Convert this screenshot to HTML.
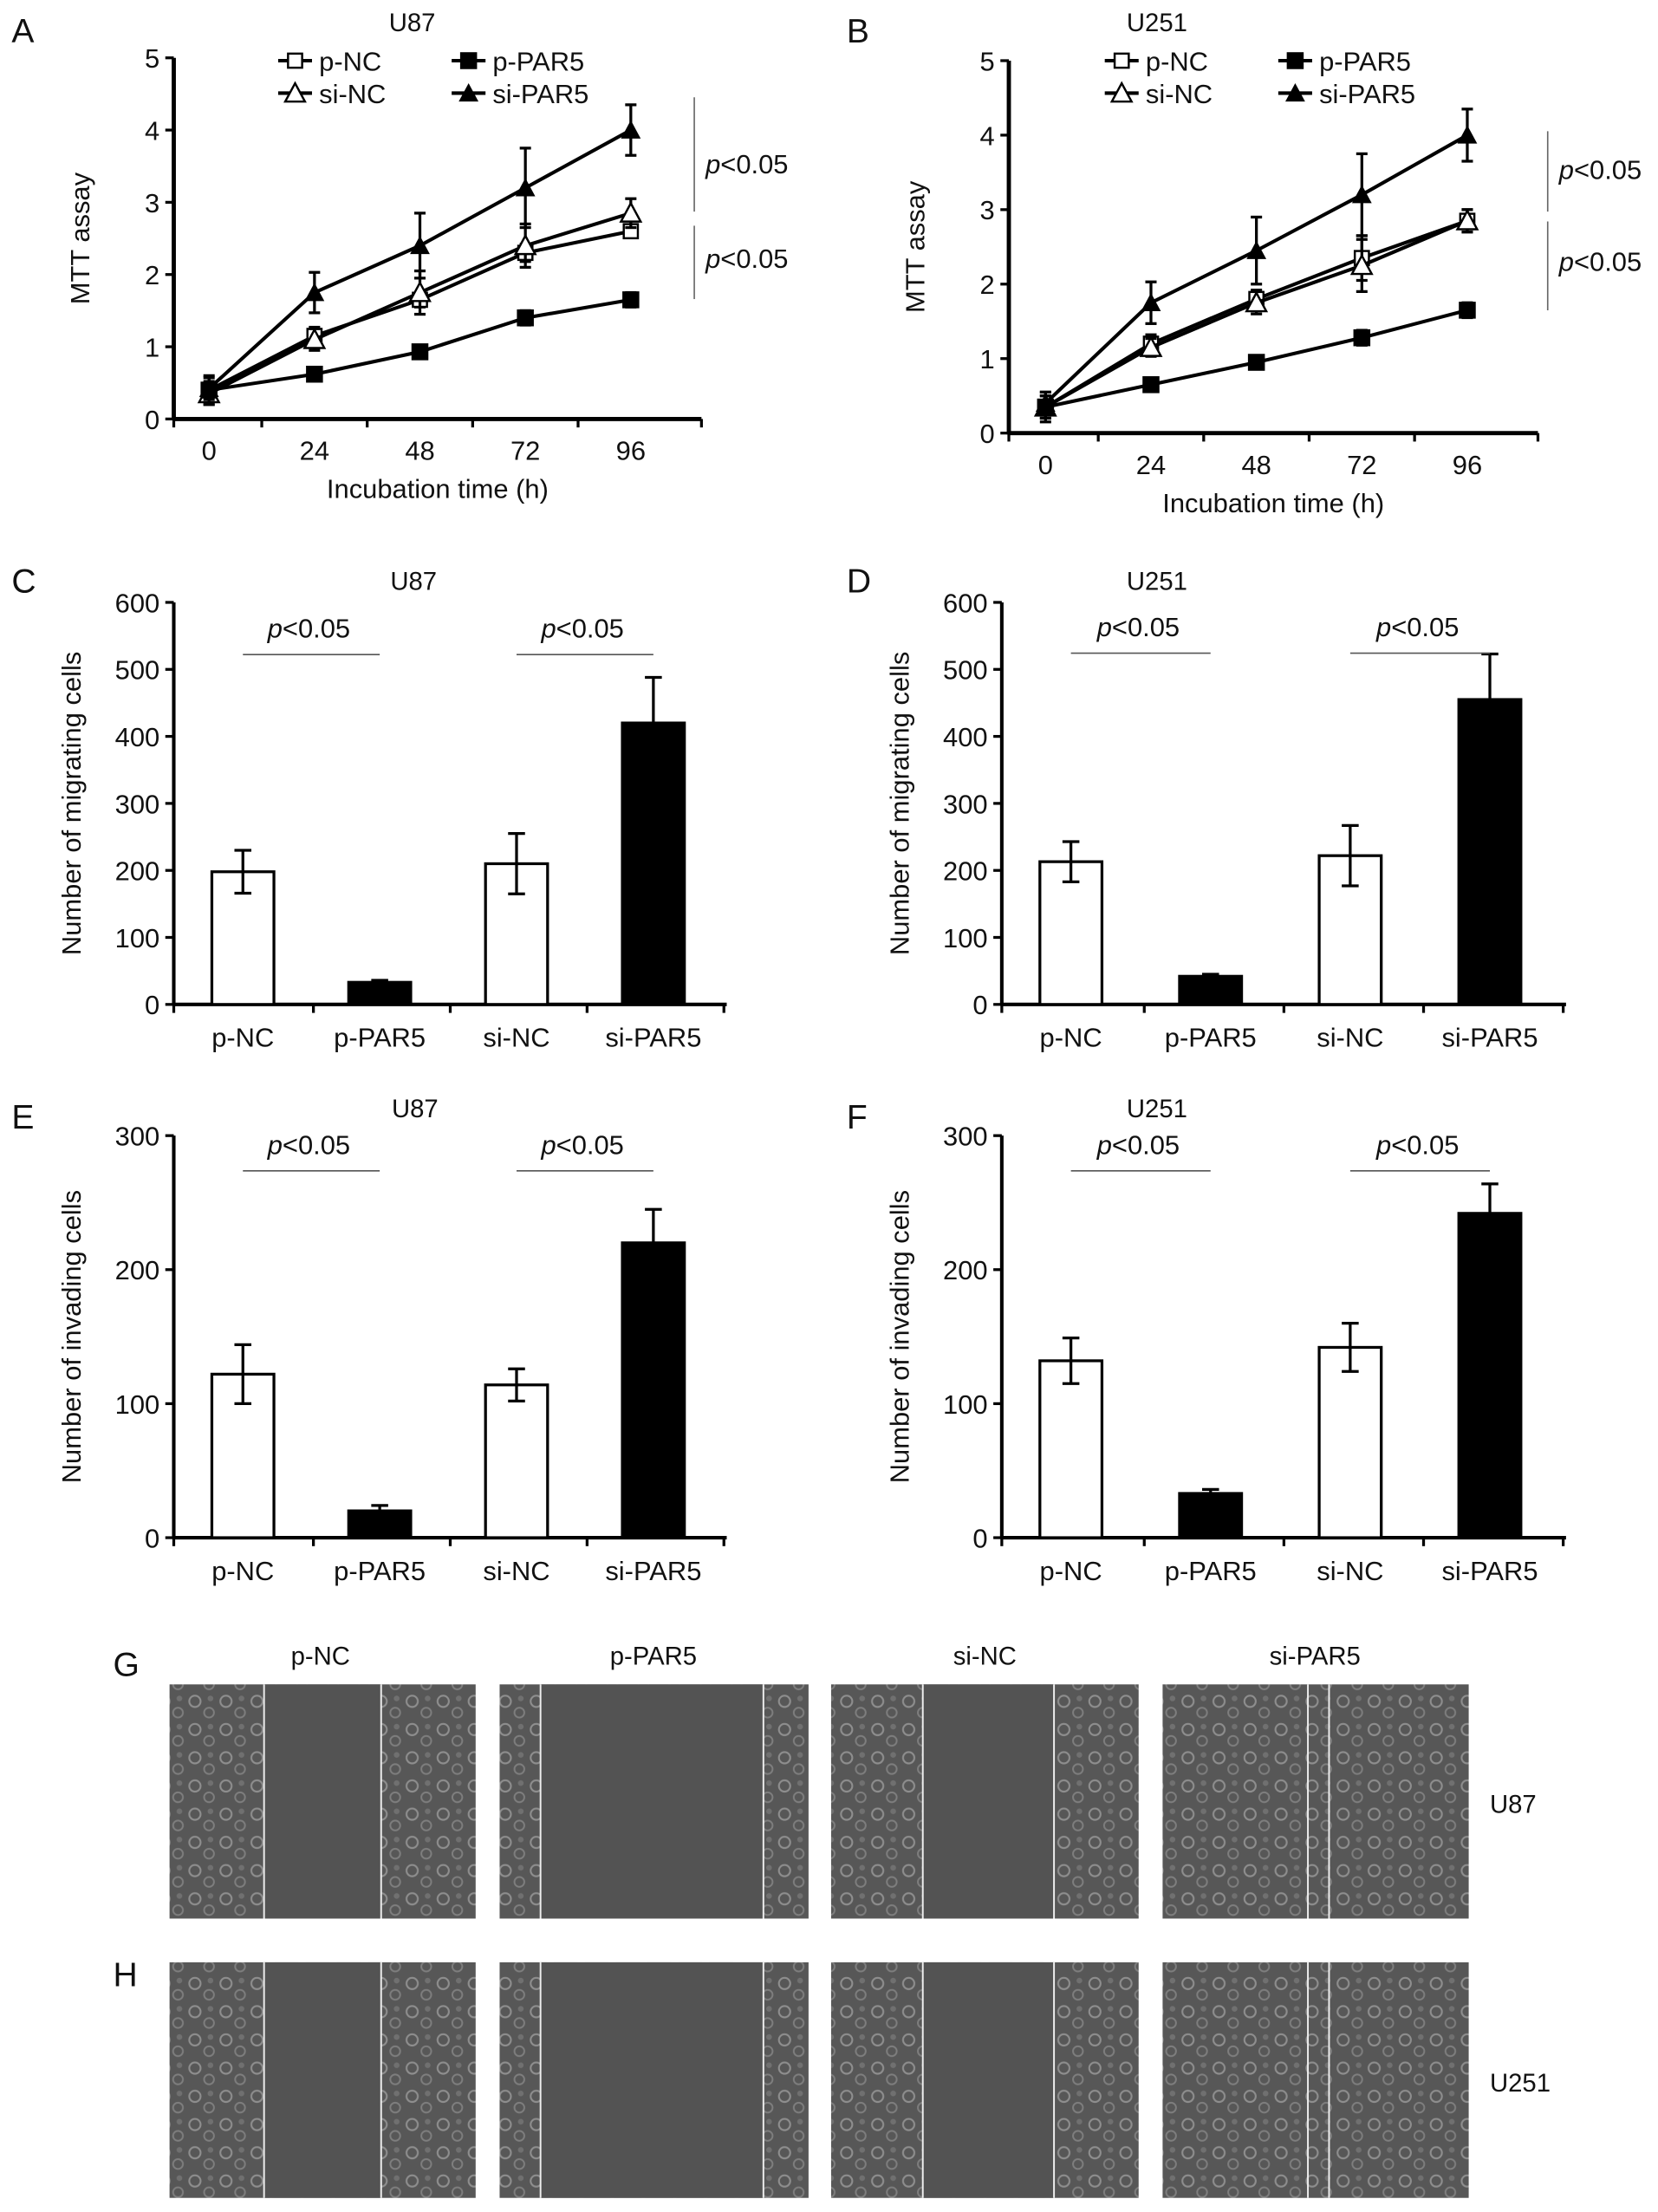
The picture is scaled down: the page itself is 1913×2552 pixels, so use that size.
<!DOCTYPE html>
<html><head><meta charset="utf-8"><style>
html,body{margin:0;padding:0;background:#fff}
svg{display:block;font-family:"Liberation Sans",Arial,sans-serif}
</style></head><body>
<svg id="fig" width="1913" height="2552" viewBox="0 0 1175 1568" xmlns="http://www.w3.org/2000/svg">
<defs>
<pattern id="cells" width="22" height="20" patternUnits="userSpaceOnUse">
<rect width="22" height="20" fill="#575757"/>
<circle cx="6" cy="6" r="4" fill="none" stroke="#8e8e8e" stroke-width="1.3"/>
<circle cx="16" cy="14" r="3.5" fill="none" stroke="#7e7e7e" stroke-width="1.2"/>
<circle cx="17" cy="4" r="2" fill="#707070"/>
</pattern>
</defs>
</svg>
<script>
// ---------- data ----------
const timeLabels = ["0","24","48","72","96"];
const seriesNames = ["p-NC","p-PAR5","si-NC","si-PAR5"];
const mttA_pNC = [0.4,1.15,1.65,2.3,2.6];
const mttA_pPAR5 = [0.4,0.62,0.93,1.4,1.65];
const mttA_siNC = [0.35,1.1,1.75,2.4,2.85];
const mttA_siPAR5 = [0.42,1.75,2.4,3.2,4.0];
const errA_pNC = [0.12,0.12,0.1,0.12,0.08];
const errA_pPAR5 = [0.2,0.05,0.08,0.1,0.1];
const errA_siNC = [0.15,0.15,0.3,0.3,0.2];
const errA_siPAR5 = [0.15,0.28,0.45,0.55,0.35];
const mttB_pNC = [0.35,1.2,1.8,2.35,2.85];
const mttB_pPAR5 = [0.35,0.65,0.95,1.28,1.65];
const mttB_siNC = [0.35,1.15,1.75,2.25,2.85];
const mttB_siPAR5 = [0.4,1.75,2.45,3.2,4.0];
const errB_pNC = [0.15,0.12,0.12,0.3,0.15];
const errB_pPAR5 = [0.15,0.05,0.08,0.1,0.1];
const errB_siNC = [0.2,0.12,0.15,0.35,0.15];
const errB_siPAR5 = [0.15,0.28,0.45,0.55,0.35];
const mttTicks = [0,1,2,3,4,5];
const barCats = ["p-NC","p-PAR5","si-NC","si-PAR5"];
const migU87 = [198,33,210,420];
const migU87Err = [32,3,45,68];
const migU251 = [213,42,222,455];
const migU251Err = [30,3,45,68];
const invU87 = [122,20,114,220];
const invU87Err = [22,4,12,25];
const invU251 = [132,33,142,242];
const invU251Err = [17,3,18,22];
const migTicks = [0,100,200,300,400,500,600];
const invTicks = [0,100,200,300];

const NS="http://www.w3.org/2000/svg";
const svg=document.getElementById('fig');
function el(tag,attrs,parent,text){const e=document.createElementNS(NS,tag);for(const k in attrs)e.setAttribute(k,attrs[k]);if(text!==undefined)e.textContent=text;(parent||svg).appendChild(e);return e;}
function txt(x,y,s,size,anchor,parent,name){const t=el('text',{x:x,y:y,'font-size':size,'text-anchor':anchor||'middle',fill:'#111'},parent,s);


return t;}
function ptxt(x,y,parent){const t=el('text',{x:x,y:y,'font-size':19,fill:'#111'},parent);


el('tspan',{'font-style':'italic'},t,'p');el('tspan',{},t,'<0.05');return t;}
function marker(g,type,x,y){
 if(type==='p-NC'){el('rect',{x:x-5,y:y-5,width:10,height:10,fill:'#fff',stroke:'#000','stroke-width':1.5},g);}
 else if(type==='p-PAR5'){el('rect',{x:x-6,y:y-6,width:12,height:12,fill:'#000'},g);}
 else if(type==='si-NC'){el('polygon',{points:`${x},${y-7} ${x-7},${y+6} ${x+7},${y+6}`,fill:'#fff',stroke:'#000','stroke-width':1.5},g);}
 else {el('polygon',{points:`${x},${y-7} ${x-7},${y+6} ${x+7},${y+6}`,fill:'#000'},g);}
}

function lineChart(o){
 const g=el('g',{});
 
 
 const ymax=5;
 const sy=v=>o.y0-(o.y0-o.y5)*v/ymax;
 const sx=i=>o.x0+(o.x96-o.x0)*i/(timeLabels.length-1);
 const step=(o.x96-o.x0)/4;
 txt(o.letterX,o.letterY,o.letter,24,'start',g,'panel-letter');
 txt(o.titleX,22,o.title,18,'middle',g,'chart-title');
 el('line',{x1:o.ax,y1:o.y5,x2:o.ax,y2:o.y0+1,stroke:'#000','stroke-width':3},g);
 el('line',{x1:o.ax,y1:o.y0,x2:o.x96+step*0.67,y2:o.y0,stroke:'#000','stroke-width':3},g);
 mttTicks.forEach(t=>{el('line',{x1:o.ax-6,y1:sy(t),x2:o.ax,y2:sy(t),stroke:'#000','stroke-width':2},g);
  txt(o.ax-10,sy(t)+7,String(t),19,'end',g,'y-tick-label');});
 for(let i=0;i<=5;i++){const x=o.x0-step/2+i*step;const xx=i===0?o.ax:(i===5?o.x96+step*0.67:x);
  el('line',{x1:xx,y1:o.y0,x2:xx,y2:o.y0+6,stroke:'#000','stroke-width':2},g);}
 timeLabels.forEach((l,i)=>txt(sx(i),o.y0+29,l,19,'middle',g,'x-tick-label'));
 txt((o.ax+o.x96+step*0.67)/2,o.y0+56,'Incubation time (h)',19,'middle',g,'x-axis-title');
 const yt=txt(0,0,'MTT assay',19,'middle',g,'y-axis-title');
 yt.setAttribute('transform',`translate(${o.ax-60},${(o.y0+o.y5)/2}) rotate(-90)`);
 o.series.forEach(s=>{
  const sg=el('g',{},g);
  
  
  el('polyline',{points:s.v.map((v,i)=>sx(i)+','+sy(v)).join(' '),fill:'none',stroke:'#000','stroke-width':2.5},sg);
  s.v.forEach((v,i)=>{el('line',{x1:sx(i),y1:sy(v+s.e[i]),x2:sx(i),y2:sy(v-s.e[i]),stroke:'#000','stroke-width':2},sg);
   el('line',{x1:sx(i)-4,y1:sy(v+s.e[i]),x2:sx(i)+4,y2:sy(v+s.e[i]),stroke:'#000','stroke-width':2},sg);
   el('line',{x1:sx(i)-4,y1:sy(v-s.e[i]),x2:sx(i)+4,y2:sy(v-s.e[i]),stroke:'#000','stroke-width':2},sg);
   marker(sg,s.name,sx(i),sy(v));});
 });
 const lg=el('g',{},g);
 
 
 const pos=[[o.legX,43],[o.legX+123,43],[o.legX,66],[o.legX+123,66]];
 seriesNames.forEach((n,i)=>{const [x,y]=pos[i];
  const e=el('g',{},lg);
  
  
  el('line',{x1:x,y1:y,x2:x+24,y2:y,stroke:'#000','stroke-width':2.5},e);marker(e,n,x+12,y);
  txt(x+29,y+7,n,19,'start',e,'legend-label');});
 o.brackets.forEach(b=>{el('line',{x1:o.bx,y1:b[0],x2:o.bx,y2:b[1],stroke:'#666','stroke-width':1},g);ptxt(o.bx+8,b[2],g);});
}
lineChart({name:'mtt-chart-u87',letter:'A',letterX:8,letterY:30,title:'U87',titleX:292,ax:123,y0:297,y5:41,x0:148,x96:447,legX:197,
 series:[{name:'p-NC',v:mttA_pNC,e:errA_pNC},{name:'si-NC',v:mttA_siNC,e:errA_siNC},{name:'p-PAR5',v:mttA_pPAR5,e:errA_pPAR5},{name:'si-PAR5',v:mttA_siPAR5,e:errA_siPAR5}],
 bx:492,brackets:[[69,150,123],[160,212,190]]});
lineChart({name:'mtt-chart-u251',letter:'B',letterX:600,letterY:30,title:'U251',titleX:820,ax:715,y0:307,y5:43,x0:741,x96:1040,legX:783,
 series:[{name:'p-NC',v:mttB_pNC,e:errB_pNC},{name:'si-NC',v:mttB_siNC,e:errB_siNC},{name:'p-PAR5',v:mttB_pPAR5,e:errB_pPAR5},{name:'si-PAR5',v:mttB_siPAR5,e:errB_siPAR5}],
 bx:1097,brackets:[[93,150,127],[157,220,192]]});

function barChart(o){
 const g=el('g',{});
 
 
 const ymax=o.ticks[o.ticks.length-1];
 const sy=v=>o.y0-(o.y0-o.ytop)*v/ymax;
 const step=o.step;
 const sx=i=>o.ax+o.off+i*step;
 txt(o.letterX,o.letterY,o.letter,24,'start',g,'panel-letter');
 txt(o.titleX,o.titleY,o.title,18,'middle',g,'chart-title');
 el('line',{x1:o.ax,y1:o.ytop,x2:o.ax,y2:o.y0+1,stroke:'#000','stroke-width':2.5},g);
 el('line',{x1:o.ax,y1:o.y0,x2:o.ax+4*step+4,y2:o.y0,stroke:'#000','stroke-width':2.5},g);
 o.ticks.forEach(t=>{el('line',{x1:o.ax-6,y1:sy(t),x2:o.ax,y2:sy(t),stroke:'#000','stroke-width':2},g);
  txt(o.ax-10,sy(t)+7,String(t),19,'end',g,'y-tick-label');});
 for(let i=0;i<=4;i++){const x=o.ax+i*step+(i?2:0);el('line',{x1:x,y1:o.y0,x2:x,y2:o.y0+6,stroke:'#000','stroke-width':2},g);}
 barCats.forEach((c,i)=>txt(sx(i),o.y0+30,c,19,'middle',g,'x-tick-label'));
 const yt=txt(0,0,o.ytitle,19,'middle',g,'y-axis-title');
 yt.setAttribute('transform',`translate(${o.ax-66},${(o.y0+o.ytop)/2}) rotate(-90)`);
 o.vals.forEach((v,i)=>{const x=sx(i);const b=el('rect',{x:x-22,y:sy(v),width:44,height:o.y0-sy(v),fill:i%2?'#000':'#fff',stroke:'#000','stroke-width':2},g);
  
  
  const e=o.errs[i];
  el('line',{x1:x,y1:sy(v+e),x2:x,y2:sy(v-e),stroke:'#000','stroke-width':2},g);
  el('line',{x1:x-6,y1:sy(v+e),x2:x+6,y2:sy(v+e),stroke:'#000','stroke-width':2},g);
  el('line',{x1:x-6,y1:sy(v-e),x2:x+6,y2:sy(v-e),stroke:'#000','stroke-width':2},g);});
 [[0,1],[2,3]].forEach(p=>{const x1=sx(p[0]),x2=sx(p[1]);
  el('line',{x1:x1,y1:o.by,x2:x2,y2:o.by,stroke:'#555','stroke-width':1},g);ptxt((x1+x2)/2-31,o.by-12,g);});
}
barChart({name:'migration-chart-u87',letter:'C',letterX:8,letterY:420,title:'U87',titleX:293,titleY:418,ax:123,off:49,step:97,y0:712,ytop:427,ticks:migTicks,vals:migU87,errs:migU87Err,ytitle:'Number of migrating cells',by:464});
barChart({name:'migration-chart-u251',letter:'D',letterX:600,letterY:420,title:'U251',titleX:820,titleY:418,ax:710,off:49,step:99,y0:712,ytop:427,ticks:migTicks,vals:migU251,errs:migU251Err,ytitle:'Number of migrating cells',by:463});
barChart({name:'invasion-chart-u87',letter:'E',letterX:8,letterY:800,title:'U87',titleX:294,titleY:792,ax:123,off:49,step:97,y0:1090,ytop:805,ticks:invTicks,vals:invU87,errs:invU87Err,ytitle:'Number of invading cells',by:830});
barChart({name:'invasion-chart-u251',letter:'F',letterX:600,letterY:800,title:'U251',titleX:820,titleY:792,ax:710,off:49,step:99,y0:1090,ytop:805,ticks:invTicks,vals:invU251,errs:invU251Err,ytitle:'Number of invading cells',by:830});

// micrographs
const imgs=[[120,337,[187,270]],[354,573,[383,541]],[589,807,[654,747]],[824,1041,[927,942]]];
const rows=[[1194,1360,'U87','G',1178],[1391,1558,'U251','H',1398]];
const mg=el('g',{});


[['p-NC',227],['p-PAR5',463],['si-NC',698],['si-PAR5',932]].forEach(l=>txt(l[1],1180,l[0],18,'middle',mg,'column-label'));
rows.forEach(r=>{
 txt(80,r[4]+10,r[3],24,'start',mg,'panel-letter');
 txt(1056,r[0]+(r[1]-r[0])/2+8,r[2],18,'start',mg,'row-label');
 imgs.forEach((im,j)=>{
  const p=el('g',{},mg);
  
  
  el('rect',{x:im[0],y:r[0],width:im[1]-im[0],height:r[1]-r[0],fill:'url(#cells)'},p);
  if(j<3) el('rect',{x:im[2][0],y:r[0],width:im[2][1]-im[2][0],height:r[1]-r[0],fill:'#535353'},p);
  im[2].forEach(x=>el('line',{x1:x,y1:r[0],x2:x,y2:r[1],stroke:'#eee','stroke-width':1.2},p));
 });
});
</script>
</body></html>
